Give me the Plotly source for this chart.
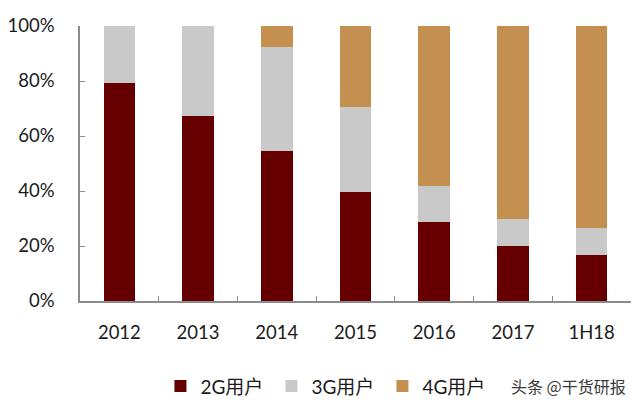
import plotly.graph_objects as go

categories = ["2012", "2013", "2014", "2015", "2016", "2017", "1H18"]
users_2g = [79.1, 67.4, 54.6, 39.7, 28.8, 19.9, 16.6]
users_3g = [20.9, 32.6, 37.9, 30.7, 13.1, 9.8, 10.0]
users_4g = [0.0, 0.0, 7.5, 29.6, 58.1, 70.3, 73.4]
series_names = ["2G用户", "3G用户", "4G用户"]
colors = ["#660000", "#C9C9C9", "#C4904F"]
y_ticks = [0, 20, 40, 60, 80, 100]
y_tick_labels = ["0%", "20%", "40%", "60%", "80%", "100%"]

fig = go.Figure()
for name, vals, col in zip(series_names, [users_2g, users_3g, users_4g], colors):
    fig.add_trace(go.Bar(x=categories, y=vals, name=name, marker=dict(color=col, line=dict(width=0))))

font_main = "Lato, 'Noto Sans CJK SC', sans-serif"
fig.update_layout(
    barmode="stack",
    bargap=0.6,
    width=640, height=400,
    margin=dict(l=80, r=9, t=26, b=99, autoexpand=False),
    plot_bgcolor="white", paper_bgcolor="white",
    font=dict(family=font_main, size=17, color="#1a1a1a"),
    showlegend=True,
    legend=dict(orientation="h", x=0.146, y=-0.31, xanchor="left", yanchor="middle",
                entrywidth=66, entrywidthmode="pixels", traceorder="normal",
                font=dict(family=font_main, size=19, color="#1a1a1a"),
                itemwidth=30),
    xaxis=dict(showline=True, linecolor="#8c8c8c", linewidth=1.5, ticks="inside", ticklen=5,
               tickcolor="#8c8c8c", tickson="boundaries", showgrid=False,
               tickfont=dict(size=18.5), ticklabelstandoff=14),
    yaxis=dict(range=[0, 100], tickmode="array", tickvals=y_ticks, ticktext=y_tick_labels,
               showline=True, linecolor="#8c8c8c", linewidth=1.5, ticks="inside", ticklen=5,
               tickcolor="#8c8c8c", showgrid=False, zeroline=False,
               tickfont=dict(size=18.5), ticklabelstandoff=20),
    annotations=[dict(text="头条 @干货研报", xref="paper", yref="paper", x=0.995, y=-0.31,
                      xanchor="right", yanchor="middle", showarrow=False,
                      font=dict(family="'Noto Sans CJK SC', sans-serif", size=16, color="#3a3a3a"))],
)
fig.write_html("out.html")
